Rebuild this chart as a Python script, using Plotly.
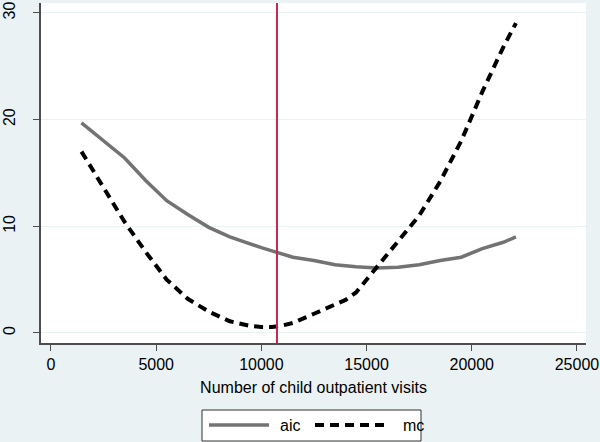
import plotly.graph_objects as go

visits = [1450, 2500, 3500, 4500, 5500, 6500, 7500, 8500, 9500, 10000, 10500, 11000,
          11500, 12500, 13500, 14000, 14500, 15500, 16500, 17500, 18500, 19500,
          20500, 21500, 22100]
aic = [19.7, 18.0, 16.4, 14.3, 12.4, 11.1, 9.9, 9.0, 8.3, 8.0, 7.7, 7.4,
       7.1, 6.8, 6.4, 6.3, 6.2, 6.1, 6.15, 6.4, 6.8, 7.1, 7.9, 8.5, 9.0]
mc = [17.0, 13.7, 10.4, 7.6, 5.0, 3.2, 2.0, 1.1, 0.65, 0.56, 0.55, 0.7,
      0.94, 1.8, 2.6, 3.1, 3.8, 6.2, 8.6, 11.0, 14.2, 18.0, 22.6, 26.8, 29.05]
vline_x = 10741
x_ticks = [0, 5000, 10000, 15000, 20000, 25000]
x_tick_labels = ["0", "5000", "10000", "15000", "20000", "25000"]
y_ticks = [0, 10, 20, 30]
series_names = ["aic", "mc"]

BG = "#eaf2f3"
AXIS = "#4d4d4d"
FONT = "Liberation Sans, Arial, sans-serif"
AIC_STYLE = dict(color="#737373", width=3.5)
MC_STYLE = dict(color="#000000", width=4, dash="9px,6px")

# plot area in pixels: x 41..586, y 3..343
L, R, T, B = 41, 14, 3, 99
PW, PH = 600 - L - R, 442 - T - B


def px(xp):
    return (xp - L) / PW


def py(yp):
    return (442 - B - yp) / PH


fig = go.Figure()
fig.add_trace(go.Scatter(x=visits, y=aic, name=series_names[0], mode="lines",
                         line=AIC_STYLE, showlegend=False))
fig.add_trace(go.Scatter(x=visits, y=mc, name=series_names[1], mode="lines",
                         line=MC_STYLE, showlegend=False))
fig.add_shape(type="line", xref="x", yref="paper", x0=vline_x, x1=vline_x, y0=0, y1=1,
              line=dict(color="#c8254f", width=2))

# legend box (drawn manually to match Stata look)
fig.add_shape(type="rect", xref="paper", yref="paper",
              x0=px(202), x1=px(421), y0=py(441), y1=py(410),
              fillcolor="white", line=dict(color="#333333", width=1))
fig.add_shape(type="line", xref="paper", yref="paper",
              x0=px(209), x1=px(269), y0=py(425), y1=py(425), line=AIC_STYLE)
fig.add_shape(type="line", xref="paper", yref="paper",
              x0=px(315), x1=px(388), y0=py(425), y1=py(425), line=MC_STYLE)
fig.add_annotation(xref="paper", yref="paper", x=px(278), y=py(425),
                   text=series_names[0], showarrow=False, xanchor="left", yanchor="middle",
                   font=dict(size=16))
fig.add_annotation(xref="paper", yref="paper", x=px(401), y=py(425),
                   text=series_names[1], showarrow=False, xanchor="left", yanchor="middle",
                   font=dict(size=16))

fig.update_layout(
    width=600, height=442,
    paper_bgcolor=BG, plot_bgcolor="white",
    margin=dict(l=L, r=R, t=T, b=B),
    font=dict(family=FONT, size=16, color="#000000"),
    showlegend=False,
    xaxis=dict(range=[-475, 25430], tickvals=x_ticks, ticktext=x_tick_labels,
               showgrid=False, zeroline=False, automargin=False,
               showline=True, linecolor=AXIS, linewidth=1.5,
               ticks="outside", ticklen=6, tickcolor=AXIS, tickwidth=1,
               tickfont=dict(size=16),
               title=dict(text="Number of child outpatient visits", standoff=10,
                          font=dict(size=16))),
    yaxis=dict(range=[-0.94, 30.93], tickvals=y_ticks, showgrid=True, gridcolor=BG,
               gridwidth=1, zeroline=False, showline=True, linecolor=AXIS,
               linewidth=1.5, ticks="outside", ticklen=6, tickcolor=AXIS, tickwidth=1,
               tickangle=-90, automargin=False, tickfont=dict(size=16),
               ticklabelstandoff=12),
)

fig.write_html("out.html", config={"displayModeBar": False},
               post_script="document.body.style.margin='0px';document.body.style.overflow='hidden';")
